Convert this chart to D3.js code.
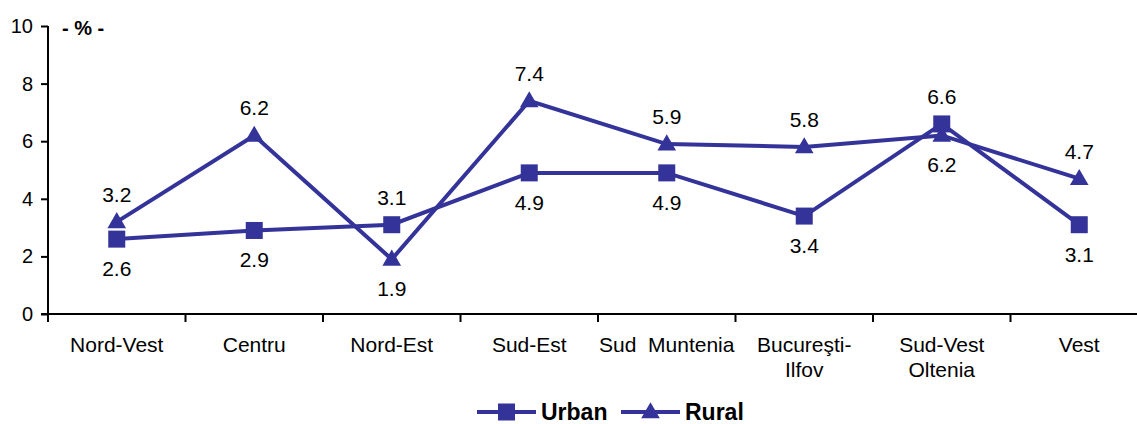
<!DOCTYPE html>
<html><head><meta charset="utf-8">
<script src="https://cdn.jsdelivr.net/npm/d3@7"></script>
<style>
html,body{margin:0;padding:0;background:#fff;}
svg{display:block;font-family:"Liberation Sans",Arial,sans-serif;}
</style></head>
<body>
<svg id="chart" width="1137" height="424"></svg>
<script>
const categories = [["Nord-Vest"],["Centru"],["Nord-Est"],["Sud-Est"],["Sud  Muntenia"],["Bucureşti-","Ilfov"],["Sud-Vest","Oltenia"],["Vest"]];
const urban = [2.6, 2.9, 3.1, 4.9, 4.9, 3.4, 6.6, 3.1];
const rural = [3.2, 6.2, 1.9, 7.4, 5.9, 5.8, 6.2, 4.7];
const yTicks = [0, 2, 4, 6, 8, 10];
const seriesNames = ["Urban", "Rural"];
const unitLabel = "- % -";

const color = "#333399";
const svg = d3.select("#chart");
const keys = categories.map((c,i)=>i);
const x = d3.scaleBand().domain(keys).range([48, 1148]).padding(0);
const y = d3.scaleLinear().domain([0,10]).range([314, 26]);

// y axis
const yAxis = svg.append("g").attr("transform","translate(48,0)")
  .call(d3.axisLeft(y).tickValues(yTicks).tickSize(7).tickPadding(8).tickFormat(d3.format("d")));
yAxis.select(".domain").attr("stroke","#000").attr("stroke-width",2).attr("d","M0,26V314");
yAxis.selectAll(".tick line").attr("stroke","#000").attr("stroke-width",2);
yAxis.selectAll(".tick text").attr("font-size",20).attr("fill","#000").attr("font-family","Liberation Sans, Arial, sans-serif");

// x axis
const xAxis = svg.append("g").attr("transform","translate(0,314)")
  .call(d3.axisBottom(x).tickValues([]).tickSize(0));
xAxis.select(".domain").attr("stroke","#000").attr("stroke-width",2).attr("d","M41,0H1148");
const bounds = keys.map(k=>x(k)).concat([x(keys[keys.length-1])+x.bandwidth()]);
xAxis.selectAll("line.bt").data(bounds).enter().append("line").attr("class","bt")
  .attr("x1",d=>d).attr("x2",d=>d).attr("y1",0).attr("y2",8)
  .attr("stroke","#000").attr("stroke-width",2);
const catG = svg.append("g");
categories.forEach((lines,i)=>{
  const t = catG.append("text").attr("x", x(i)+x.bandwidth()/2).attr("y",352)
    .attr("text-anchor","middle").attr("font-size",21).attr("fill","#000")
    .style("white-space","pre");
  lines.forEach((l,j)=>{
    t.append("tspan").attr("x", x(i)+x.bandwidth()/2).attr("dy", j===0?0:25).text(l);
  });
});

// unit label
svg.append("text").attr("x",62).attr("y",35).attr("font-size",20).attr("font-weight","bold").attr("fill","#000").style("white-space","pre").text(unitLabel);

const cx = i => x(i)+x.bandwidth()/2;
const line = d3.line().x((d,i)=>cx(i)).y(d=>y(d));
const tri = d3.symbol().type(d3.symbolTriangle).size(150);
const sq = 17;

function drawSeries(vals, kind){
  svg.append("path").datum(vals).attr("d",line).attr("fill","none")
    .attr("stroke",color).attr("stroke-width",4).attr("stroke-linejoin","miter");
  const g = svg.append("g");
  vals.forEach((v,i)=>{
    if(kind==="sq"){
      g.append("rect").attr("x",cx(i)-sq/2).attr("y",y(v)-sq/2).attr("width",sq).attr("height",sq).attr("fill",color);
    } else {
      g.append("path").attr("d",tri).attr("transform",`translate(${cx(i)},${y(v)+1})`).attr("fill",color);
    }
  });
}
drawSeries(rural, "tri");
drawSeries(urban, "sq");

function labels(vals, other){
  vals.forEach((v,i)=>{
    const above = v > other[i];
    svg.append("text").attr("x",cx(i)).attr("y", above ? y(v)-20 : y(v)+37)
      .attr("text-anchor","middle").attr("font-size",21).attr("fill","#000")
      .text(d3.format(".1f")(v));
  });
}
labels(urban, rural);
labels(rural, urban);

// legend
const lg = svg.append("g");
const legendItems = [{name:seriesNames[0], x0:477, kind:"sq"},{name:seriesNames[1], x0:621, kind:"tri"}];
legendItems.forEach(it=>{
  const ly = 412;
  lg.append("line").attr("x1",it.x0).attr("x2",it.x0+59).attr("y1",ly).attr("y2",ly).attr("stroke",color).attr("stroke-width",4);
  const mx = it.x0+29.5;
  if(it.kind==="sq") lg.append("rect").attr("x",mx-sq/2).attr("y",ly-sq/2).attr("width",sq).attr("height",sq).attr("fill",color);
  else lg.append("path").attr("d",tri).attr("transform",`translate(${mx},${ly+1})`).attr("fill",color);
  lg.append("text").attr("x",it.x0+64).attr("y",ly+8).attr("font-size",23).attr("font-weight","bold").attr("fill","#000").text(it.name);
});
</script>
</body></html>
